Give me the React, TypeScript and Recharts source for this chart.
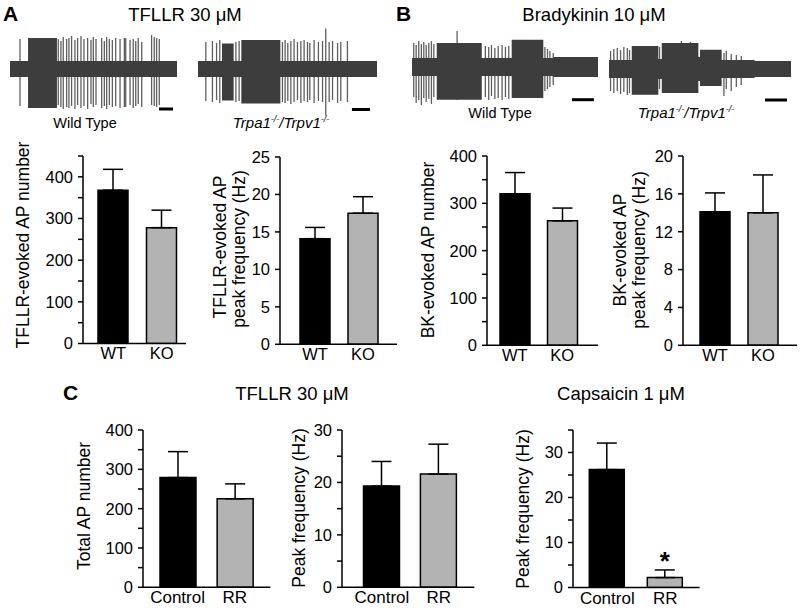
import React from "react";
import {
  BarChart,
  Bar,
  XAxis,
  YAxis,
  ErrorBar,
  Cell,
  LabelList,
  ComposedChart,
  Area,
  ReferenceLine,
} from "recharts";

const FONT = "Arial, 'Liberation Sans', Helvetica, sans-serif";
const BLACK = "#000000";
const GREY = "#b3b3b3";
const TRACE = "#3d3d3d";
const SPIKE = "#5e5e5e";

// ---- bar data (mean + upper SEM) ----
const tfllrNumber = [
  { name: "WT", value: 368, err: 50 },
  { name: "KO", value: 278, err: 42 },
];
const tfllrFreq = [
  { name: "WT", value: 14.1, err: 1.5 },
  { name: "KO", value: 17.5, err: 2.2 },
];
const bkNumber = [
  { name: "WT", value: 320, err: 45 },
  { name: "KO", value: 263, err: 27 },
];
const bkFreq = [
  { name: "WT", value: 14.1, err: 2.0 },
  { name: "KO", value: 14.0, err: 4.0 },
];
const rrNumber = [
  { name: "Control", value: 279, err: 66 },
  { name: "RR", value: 225, err: 38 },
];
const rrFreq = [
  { name: "Control", value: 19.3, err: 4.7 },
  { name: "RR", value: 21.6, err: 5.7 },
];
const capsFreq = [
  { name: "Control", value: 26.2, err: 5.9, sig: "" },
  { name: "RR", value: 2.2, err: 1.7, sig: "*" },
];

// ---- tick lists ----
const ticks450 = [0, 50, 100, 150, 200, 250, 300, 350, 400, 450];
const ticks400 = [0, 50, 100, 150, 200, 250, 300, 350, 400];
const labels400 = [0, 100, 200, 300, 400];
const ticks25 = [0, 5, 10, 15, 20, 25];
const ticks20 = [0, 4, 8, 12, 16, 20];
const ticks30 = [0, 5, 10, 15, 20, 25, 30];
const ticks35 = [0, 5, 10, 15, 20, 25, 30, 35];
const labels30 = [0, 10, 20, 30];

// ---- recording envelopes: [time, low, high], time 0-100, amplitude a.u. ----
type Tri = [number, number, number];
const wtTfllrEnv: Tri[] = [[0, -8, 8], [10.8, -39, 31], [28.1, -8, 8], [100, -8, 8]];
const wtTfllrSpikes: Tri[] = [
  [6, -37, 30], [28.9, -36, 30], [30.5, -38, 28], [31.9, -40, 32], [33.9, -38, 30], [35.3, -39, 31],
  [36.9, -37, 33], [38.9, -40, 29], [40.5, -36, 31], [42.5, -39, 33], [44.3, -37, 30], [46.5, -40, 31],
  [48.5, -35, 29], [49.9, -38, 32], [51.5, -36, 30], [54.9, -39, 31], [56.5, -37, 28], [57.9, -40, 32],
  [59.5, -36, 30], [61.3, -38, 29], [63.3, -37, 31], [65.9, -39, 30], [68.5, -38, 31], [69.3, -38, 31],
  [71.9, -36, 29], [73.8, -39, 30], [75.3, -37, 28], [76.8, -35, 31], [78.9, -38, 27], [84.8, -36, 34],
  [86.4, -37, 32], [87.8, -38, 31], [89.4, -36, 30],
];
const koTfllrEnv: Tri[] = [[0, -8, 8], [13.4, -31.5, 25.5], [19.9, -8, 8], [24.2, -34.5, 29], [46, -8, 8], [100, -8, 8]];
const koTfllrSpikes: Tri[] = [
  [4.1, -32, 27], [7.8, -33, 28], [10.1, -31, 26], [11.9, -34, 29], [20.9, -33, 27], [22.7, -32, 28],
  [46.9, -33, 27], [48.4, -34, 29], [49.9, -32, 26], [51.6, -35, 28], [53.4, -33, 30], [55.3, -31, 27],
  [57.2, -34, 28], [59.0, -32, 29], [60.9, -33, 27], [62.2, -31, 26], [64.6, -34, 29], [67.0, -32, 27],
  [69.3, -33, 28], [71.1, -46.5, 40.5], [73.0, -33, 27], [74.9, -31, 28], [77.7, -34, 26], [79.5, -32, 27],
  [83.2, -33, 28],
];
const wtBkEnv: Tri[] = [[0, -9, 9], [13.3, -32.7, 24], [37.5, -9, 9], [53.6, -31, 27.3], [70.6, -9, 9], [76, -10, 10], [100, -10, 10]];
const wtBkSpikes: Tri[] = [
  [0.7, -30, 24], [2.0, -36, 22], [3.4, -33, 26], [4.8, -38, 23], [6.1, -31, 25], [7.4, -35, 22],
  [8.8, -32, 24], [10.2, -37, 26], [11.5, -30, 23], [24, -33, 36], [39.2, -30, 21], [41.0, -33, 20],
  [42.5, -29, 22], [44.3, -32, 19], [46.1, -31, 21], [48.2, -33, 22], [50.0, -30, 20], [51.8, -32, 21],
  [71.2, -24, 20], [72.6, -22, 18], [73.9, -20, 16], [75.7, -18, 14],
];
const koBkEnv: Tri[] = [
  [0, -9, 9], [12.5, -25.7, 23], [27.1, -10, 10], [29, -24, 26], [49.1, -12, 12], [50, -17, 19.3],
  [61.9, -9, 9], [80, -8, 8], [100, -8, 8],
];
const koBkSpikes: Tri[] = [
  [1.1, -22, 18], [2.9, -24, 20], [4.8, -22, 21], [6.6, -25, 19], [8.4, -23, 22], [10.3, -26, 21],
  [11.5, -24, 19], [28, -20, 22], [40, -22, 28], [45, -20, 27], [63.4, -27, 16], [64.7, -20, 18],
  [67.4, -22, 15], [70.2, -18, 14], [72.9, -16, 13],
];

type Row = { name: string; value: number; err: number; sig?: string };

type PanelProps = {
  data: Row[];
  ticks: number[];
  labelled: number[];
  domain: [number, number];
  left: number;
  right: number;
  top: number;
  bottom: number;
  padL: number;
  padR: number;
  barSize: number;
  xFont: number;
};

function BarPanel(p: PanelProps) {
  const yw = 60;
  const mt = 8;
  const mr = 4;
  const xh = 30;
  const rows = p.data.map((d) => ({ ...d, range: [0, d.err] }));
  const hasSig = p.data.some((d) => d.sig);
  return (
    <div style={{ position: "absolute", left: p.left - yw, top: p.top - mt }}>
      <BarChart
        width={yw + (p.right - p.left) + mr}
        height={mt + (p.bottom - p.top) + xh}
        data={rows}
        margin={{ top: mt, right: mr, bottom: 0, left: 0 }}
        barSize={p.barSize}
      >
        <XAxis
          dataKey="name"
          height={xh}
          interval={0}
          axisLine={{ stroke: BLACK, strokeWidth: 1.5 }}
          tickLine={false}
          tickSize={2}
          padding={{ left: p.padL, right: p.padR }}
          tick={{ fill: BLACK, fontSize: p.xFont, fontFamily: FONT }}
        />
        <YAxis
          width={yw}
          type="number"
          domain={p.domain}
          ticks={p.ticks}
          interval={0}
          allowDataOverflow
          axisLine={{ stroke: BLACK, strokeWidth: 1.5 }}
          tickLine={{ stroke: BLACK, strokeWidth: 1.5 }}
          tickSize={5}
          tickMargin={5}
          tick={{ fill: BLACK, fontSize: 16.5, fontFamily: FONT }}
          tickFormatter={(v: number) => (p.labelled.includes(v) ? String(v) : "")}
        />
        <Bar dataKey="value" stroke={BLACK} strokeWidth={1.5} isAnimationActive={false}>
          {rows.map((r, i) => (
            <Cell key={r.name} fill={i === 0 ? BLACK : GREY} />
          ))}
          <ErrorBar dataKey="range" width={10} stroke={BLACK} strokeWidth={1.5} />
          {hasSig && (
            <LabelList dataKey="sig" position="top" offset={8} fill={BLACK} fontSize={26} fontWeight="bold" fontFamily={FONT} />
          )}
        </Bar>
      </BarChart>
    </div>
  );
}

type TraceProps = {
  left: number;
  width: number;
  center: number;
  env: Tri[];
  spikes: Tri[];
  scale: [number, number, number];
};

function TracePanel({ left, width, center, env, spikes, scale }: TraceProps) {
  const H = 100;
  const envRows = env.map(([t, lo, hi]) => ({ t, r: [lo, hi] }));
  const spikeRows = spikes.map(([t, lo, hi]) => ({ t, r: [lo, hi] }));
  const box: React.CSSProperties = { position: "absolute", left, top: center - H / 2 };
  const m = { top: 0, right: 0, bottom: 0, left: 0 };
  return (
    <>
      <div style={box}>
        <BarChart width={width} height={H} data={spikeRows} margin={m} barSize={1.3}>
          <XAxis type="number" dataKey="t" domain={[0, 100]} hide />
          <YAxis type="number" domain={[-50, 50]} hide />
          <Bar dataKey="r" fill={SPIKE} isAnimationActive={false} />
          <ReferenceLine
            segment={[
              { x: scale[0], y: scale[2] },
              { x: scale[1], y: scale[2] },
            ]}
            stroke={BLACK}
            strokeWidth={3}
          />
        </BarChart>
      </div>
      <div style={box}>
        <ComposedChart width={width} height={H} data={envRows} margin={m}>
          <XAxis type="number" dataKey="t" domain={[0, 100]} hide />
          <YAxis type="number" domain={[-50, 50]} hide />
          <Area type="stepAfter" dataKey="r" fill={TRACE} fillOpacity={1} stroke="none" isAnimationActive={false} />
        </ComposedChart>
      </div>
    </>
  );
}

function KoLabel({ x, y }: { x: number; y: number }) {
  return (
    <text x={x} y={y} textAnchor="middle" fontSize={15} fontStyle="italic">
      Trpa1<tspan fontSize={9} dy={-6}>-/-</tspan>
      <tspan dy={6}>/Trpv1</tspan>
      <tspan fontSize={9} dy={-6}>-/-</tspan>
    </text>
  );
}

function VTitle({ x, y, children }: { x: number; y: number; children: React.ReactNode }) {
  return (
    <text transform={`translate(${x},${y}) rotate(-90)`} textAnchor="middle" dominantBaseline="central" fontSize={17.5}>
      {children}
    </text>
  );
}

export default function App() {
  return (
    <div
      style={{
        position: "absolute",
        left: 0,
        top: 0,
        width: 800,
        height: 609,
        background: "#fff",
        fontFamily: FONT,
        overflow: "hidden",
      }}
    >
      <TracePanel left={10} width={167} center={69} env={wtTfllrEnv} spikes={wtTfllrSpikes} scale={[89.2, 97.6, -40]} />
      <TracePanel left={198} width={179} center={68.5} env={koTfllrEnv} spikes={koTfllrSpikes} scale={[86, 96.1, -40.5]} />
      <TracePanel left={412} width={186} center={67} env={wtBkEnv} spikes={wtBkSpikes} scale={[86, 97.8, -32.7]} />
      <TracePanel left={609} width={182} center={69} env={koBkEnv} spikes={koBkSpikes} scale={[85.7, 97.8, -31]} />

      <BarPanel data={tfllrNumber} ticks={ticks450} labelled={labels400} domain={[0, 450]}
        left={83} right={186} top={155.8} bottom={343.3} padL={6} padR={0} barSize={30} xFont={16.5} />
      <BarPanel data={tfllrFreq} ticks={ticks25} labelled={ticks25} domain={[0, 25]}
        left={280} right={397} top={156.7} bottom={344} padL={11} padR={10} barSize={30} xFont={16.5} />
      <BarPanel data={bkNumber} ticks={ticks400} labelled={labels400} domain={[0, 400]}
        left={487} right={598} top={155.7} bottom={345} padL={4} padR={12} barSize={30} xFont={16.5} />
      <BarPanel data={bkFreq} ticks={ticks20} labelled={ticks20} domain={[0, 20]}
        left={683} right={797} top={155.7} bottom={345} padL={8} padR={10} barSize={30} xFont={16.5} />
      <BarPanel data={rrNumber} ticks={ticks400} labelled={labels400} domain={[0, 400]}
        left={142.7} right={270} top={430} bottom={587.3} padL={6} padR={7} barSize={36} xFont={17} />
      <BarPanel data={rrFreq} ticks={ticks30} labelled={labels30} domain={[0, 30]}
        left={341.7} right={474} top={430} bottom={587.3} padL={11.5} padR={7} barSize={36} xFont={17} />
      <BarPanel data={capsFreq} ticks={ticks35} labelled={labels30} domain={[0, 35]}
        left={572.7} right={699.3} top={429.8} bottom={587.3} padL={5.3} padR={5.3} barSize={35} xFont={17} />

      <svg width={800} height={609} style={{ position: "absolute", left: 0, top: 0, pointerEvents: "none" }} fontFamily={FONT} fill={BLACK}>
        <text x={3} y={21} fontSize={21} fontWeight="bold">A</text>
        <text x={185} y={21} fontSize={18.5} textAnchor="middle">TFLLR 30 μM</text>
        <text x={396} y={21} fontSize={21} fontWeight="bold">B</text>
        <text x={594} y={21} fontSize={18.5} textAnchor="middle">Bradykinin 10 μM</text>
        <text x={85} y={128} fontSize={14.5} textAnchor="middle">Wild Type</text>
        <KoLabel x={281} y={128} />
        <text x={500} y={118} fontSize={14.5} textAnchor="middle">Wild Type</text>
        <KoLabel x={686} y={118} />

        <VTitle x={23} y={245}>TFLLR-evoked AP number</VTitle>
        <VTitle x={220} y={247}>TFLLR-evoked AP</VTitle>
        <VTitle x={239} y={249}>peak frequency (Hz)</VTitle>
        <VTitle x={428} y={250}>BK-evoked AP number</VTitle>
        <VTitle x={620} y={250}>BK-evoked AP</VTitle>
        <VTitle x={639} y={250}>peak frequency (Hz)</VTitle>

        <text x={63} y={400} fontSize={21} fontWeight="bold">C</text>
        <text x={292} y={400} fontSize={18.5} textAnchor="middle">TFLLR 30 μM</text>
        <text x={621} y={400} fontSize={18.5} textAnchor="middle">Capsaicin 1 μM</text>
        <VTitle x={84} y={506}>Total AP number</VTitle>
        <VTitle x={299} y={508}>Peak frequency (Hz)</VTitle>
        <VTitle x={523} y={509}>Peak frequency (Hz)</VTitle>
      </svg>
    </div>
  );
}
